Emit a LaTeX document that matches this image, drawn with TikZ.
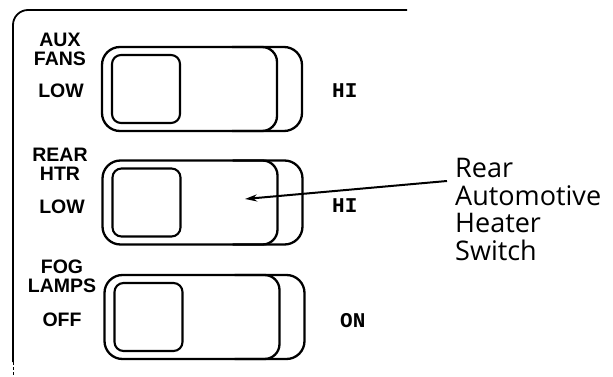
\documentclass[tikz,border=0pt]{standalone}
\usepackage{fontspec}
\usetikzlibrary{arrows.meta,calc}
\newfontfamily\labfont{Liberation Sans}
\newfontfamily\posfont{Liberation Mono}
\newfontfamily\callfont{Open Sans}
\tikzset{
  panel/.style={line width=1.8pt, rounded corners=15pt},
  swbody/.style={draw, line width=2.3pt, rounded corners=18pt, minimum width=200pt, minimum height=84pt, inner sep=0pt, outer sep=0pt},
  swface/.style={line width=2.3pt, rounded corners=15pt},
  swknob/.style={draw, line width=2.1pt, rounded corners=9pt, minimum width=68pt, minimum height=68pt, inner sep=0pt, outer sep=0pt},
  swlabel/.style={font=\labfont\bfseries\fontsize{19.5}{19}\selectfont, align=center, inner sep=0pt},
  poslabel/.style={font=\posfont\bfseries\fontsize{21}{21}\selectfont, inner sep=0pt, anchor=base west},
  callout/.style={font=\callfont\fontsize{27}{27.7}\selectfont, align=left, inner sep=0pt, anchor=north west},
  pointer/.style={line width=2pt, -{Stealth[length=12pt, width=7pt]}}
}
\begin{document}
\begin{tikzpicture}[x=1pt,y=-1pt]
\useasboundingbox (0,0) rectangle (613,377);
% panel outline
\draw[panel] (407,10) -| (13,362);
\draw[line width=1pt, dash pattern=on 3pt off 2pt] (13,362) -- (13,377);
% switches
\foreach \n/\cx/\cy in {1/202/89, 2/202.5/202.5, 3/204.5/317}{
  \node[swbody] (sw\n) at (\cx,\cy) {};
  \draw[swface] ($(sw\n.north east)+(-70,0)$) -| ($(sw\n.east)+(-25,0)$) |- ($(sw\n.south east)+(-70,0)$);
  \node[swknob] (knob\n) at ($(sw\n.west)+(44,0)$) {};
}
% left labels
\node[swlabel, anchor=north] (name1) at (60,33) {AUX\\FANS};
\node[swlabel, anchor=base] (low1) at (61,98) {LOW};
\node[swlabel, anchor=north] (name2) at (60,148) {REAR\\HTR};
\node[swlabel, anchor=base] (low2) at (62,213) {LOW};
\node[swlabel, anchor=north] (name3) at (62,260) {FOG\\LAMPS};
\node[swlabel, anchor=base] (off3) at (62,326) {OFF};
% right labels
\node[poslabel] (hi1) at (332,98) {HI};
\node[poslabel] (hi2) at (332,212) {HI};
\node[poslabel] (on3) at (340,327) {ON};
% callout
\node[callout] (call) at (455,158) {Rear\\Automotive\\Heater\\Switch};
\coordinate (tailpt) at (447,181);
\coordinate (tippt) at (245,199);
\draw[pointer] (tailpt) -- (tippt);
\end{tikzpicture}
\end{document}
